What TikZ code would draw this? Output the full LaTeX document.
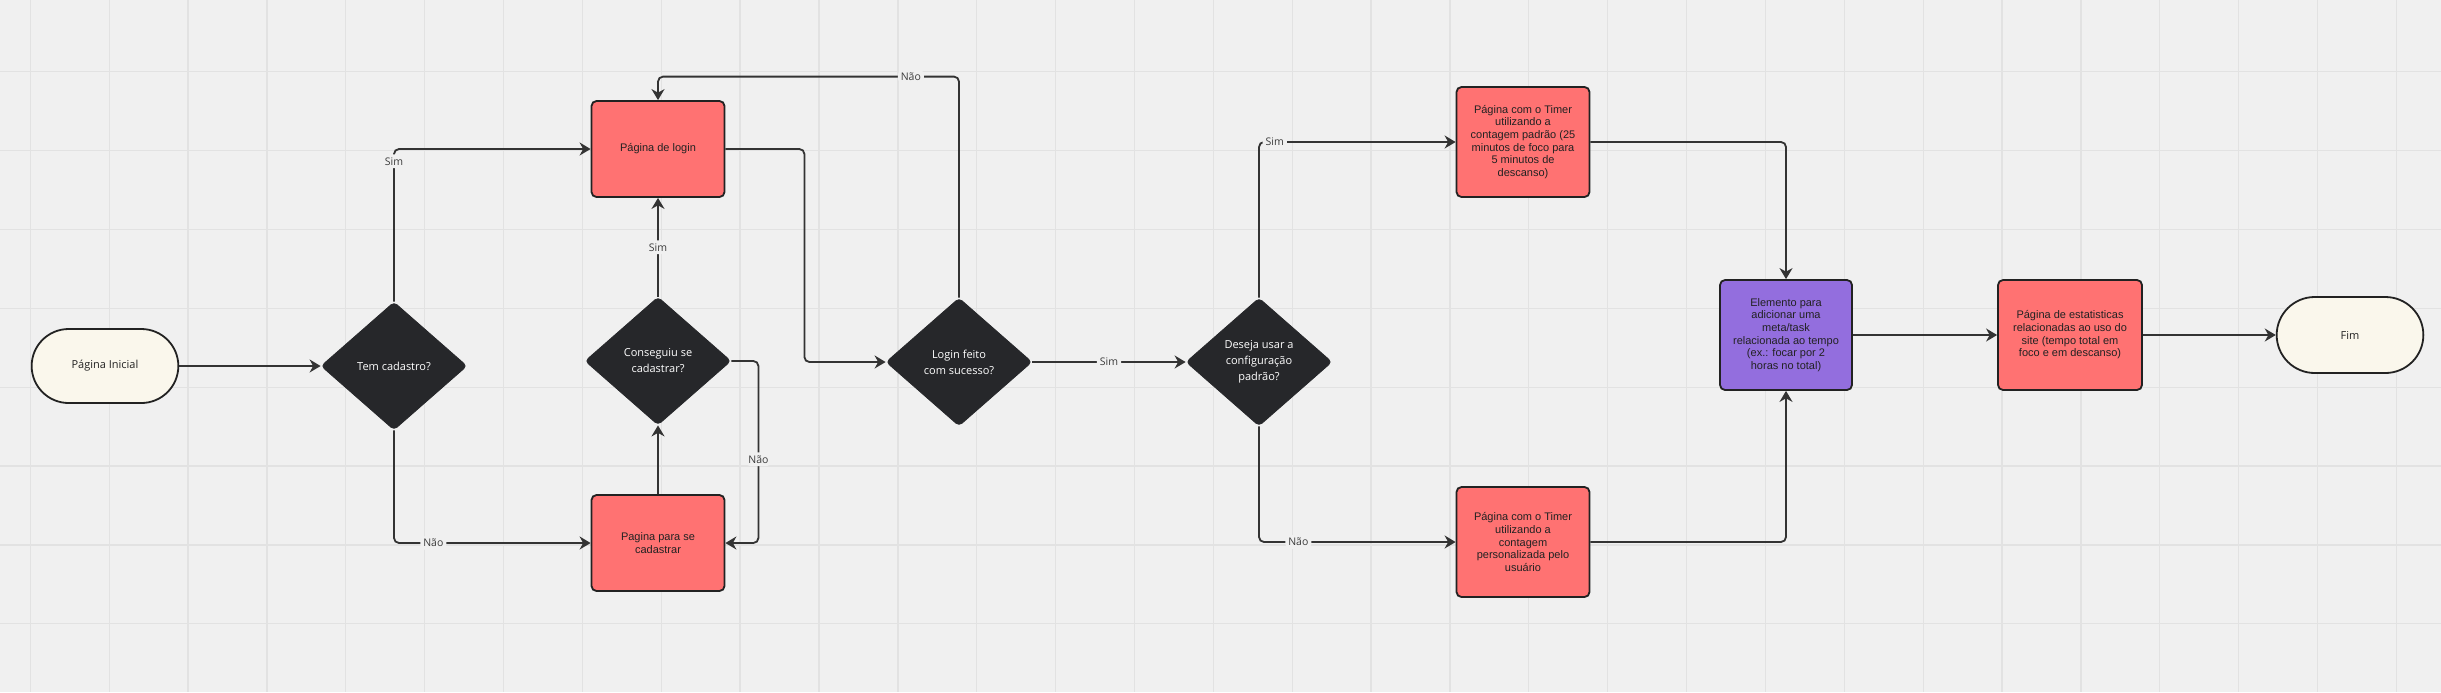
\documentclass[tikz,border=0pt]{standalone}
\usepackage{fontspec}
\usepackage{tikz}
\usetikzlibrary{shapes,arrows.meta,positioning}
\newfontfamily\opensans{Open Sans}
\newfontfamily\arialfont{Liberation Sans}
\definecolor{bgcol}{RGB}{240,240,240}
\definecolor{gridcol}{RGB}{226,226,226}
\definecolor{linecol}{RGB}{34,34,34}
\definecolor{arrowcol}{RGB}{51,51,51}
\definecolor{redcol}{RGB}{255,114,114}
\definecolor{darkcol}{RGB}{38,39,42}
\definecolor{creamcol}{RGB}{250,247,236}
\definecolor{purplecol}{RGB}{147,110,222}
\definecolor{labelcol}{RGB}{60,60,60}
\tikzstyle{terminal} = [
  rounded rectangle,
  draw=linecol,
  line width=0.9pt,
  fill=creamcol,
  minimum width=80pt,
  minimum height=37pt,
  text=linecol,
  font=\opensans\fontsize{5.5}{7}\selectfont]
\tikzstyle{decision} = [
  diamond,
  draw=darkcol,
  fill=darkcol,
  rounded corners=2pt,
  aspect=1.14,
  inner sep=0pt,
  minimum width=73pt,
  minimum height=64pt,
  align=center,
  text=white,
  font=\opensans\fontsize{5.5}{8}\selectfont]
\tikzstyle{pagebox} = [
  rectangle,
  rounded corners=2.5pt,
  draw=linecol,
  line width=0.9pt,
  fill=redcol,
  minimum width=66.5pt,
  minimum height=55pt,
  align=center,
  text=linecol,
  font=\arialfont\fontsize{5.5}{6.35}\selectfont]
\tikzstyle{flow} = [
  draw=arrowcol,
  line width=0.9pt,
  rounded corners=2.5pt,
  -{Stealth[length=5.5pt,width=6.5pt]}]
\tikzstyle{answer} = [
  fill=bgcol,
  inner sep=1.5pt,
  text=labelcol,
  font=\opensans\fontsize{5.25}{6}\selectfont]

\begin{document}
\begin{tikzpicture}[x=0.5pt, y=-0.5pt]
  \fill[bgcol] (0,0) rectangle (2441,692);
  \useasboundingbox (0,0) rectangle (2441,692);
  % background grid
  \foreach \k in {0,...,30}
    \draw[gridcol, line width=0.65pt] ({30.3+78.87*\k},0) -- ({30.3+78.87*\k},692);
  \foreach \k in {0,...,7}
    \draw[gridcol, line width=0.65pt] (0,{71.7+78.87*\k}) -- (2441,{71.7+78.87*\k});

  \node[terminal] (inicio) at (105,366) {Página Inicial};
  \node[decision] (temCad) at (394,366) {Tem cadastro?};
  \node[pagebox, minimum height=48pt] (login) at (658,149) {Página de login};
  \node[decision] (consCad) at (658,361) {Conseguiu se\\cadastrar?};
  \node[pagebox, minimum height=48pt] (cadastro) at (658,543) {Pagina para se\\cadastrar};
  \node[decision] (loginOk) at (959,362) {Login feito\\com sucesso?};
  \node[decision] (config) at (1259,362) {Deseja usar a\\configuração\\padrão?};
  \node[pagebox] (timerPad) at (1523,142) {Página com o Timer\\utilizando a\\contagem padrão (25\\minutos de foco para\\5 minutos de\\descanso)};
  \node[pagebox] (timerPers) at (1523,542) {Página com o Timer\\utilizando a\\contagem\\personalizada pelo\\usuário};
  \node[pagebox, fill=purplecol, minimum width=66pt] (meta) at (1786,335) {Elemento para\\adicionar uma\\meta/task\\relacionada ao tempo\\(ex.: focar por 2\\horas no total)};
  \node[pagebox, minimum width=72pt] (stats) at (2070,335) {Página de estatisticas\\relacionadas ao uso do\\site (tempo total em\\foco e em descanso)};
  \node[terminal, minimum height=38pt] (fim) at (2350,335) {Fim};

  \draw[flow] (inicio) -- (temCad);
  \draw[flow] (temCad.north) |- node[answer, pos=0.46] {Sim} (login.west);
  \draw[flow] (temCad.south) |- node[answer, pos=0.6] {Não} (cadastro.west);
  \draw[flow] (cadastro) -- (consCad);
  \draw[flow] (consCad) -- node[answer] {Sim} (login);
  \draw[flow] (consCad.east) -- ++(27,0) |- node[answer, pos=0.27] {Não} (cadastro.east);
  \draw[flow] (login.east) -- ++(79,0) |- (loginOk.west);
  \draw[flow] (loginOk.north) -- ++(0,-221) -| node[answer, pos=0.08] {Não} (login.north);
  \draw[flow] (loginOk) -- node[answer] {Sim} (config);
  \draw[flow] (config.north) |- node[answer, pos=0.54] {Sim} (timerPad.west);
  \draw[flow] (config.south) |- node[answer, pos=0.6] {Não} (timerPers.west);
  \draw[flow] (timerPad.east) -| (meta.north);
  \draw[flow] (timerPers.east) -| (meta.south);
  \draw[flow] (meta) -- (stats);
  \draw[flow] (stats) -- (fim);
\end{tikzpicture}
\end{document}
